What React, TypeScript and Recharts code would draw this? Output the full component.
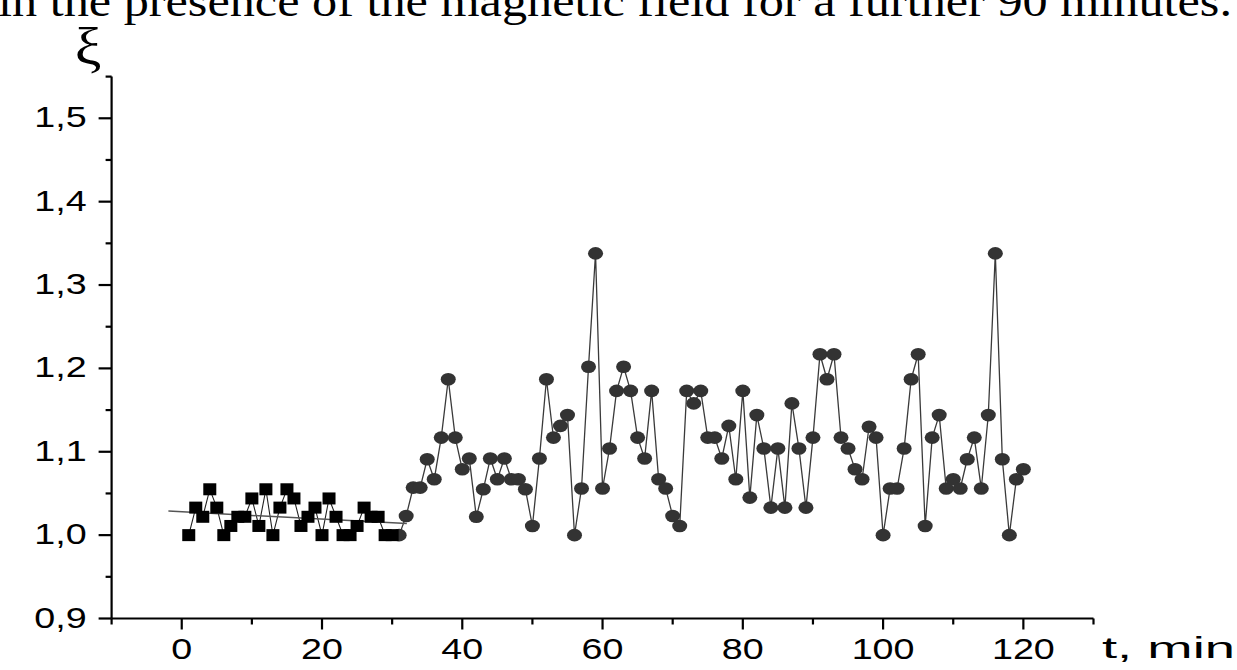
import { LineChart, Line, XAxis, YAxis } from "recharts";

// control period (squares), t in minutes
const controlTimes = [
  1, 2, 3, 4, 5, 6, 7, 8, 9, 10, 11, 12, 13, 14, 15, 16, 17, 18, 19, 20, 21, 22, 23, 24, 25, 26, 27, 28, 29, 30,
];
const controlValues = [
  1.0, 1.033, 1.022, 1.055, 1.033, 1.0, 1.011, 1.022, 1.022, 1.044, 1.011, 1.055, 1.0, 1.033, 1.055, 1.044, 1.011,
  1.022, 1.033, 1.0, 1.044, 1.022, 1.0, 1.0, 1.011, 1.033, 1.022, 1.022, 1.0, 1.0,
];

// magnetic field period (circles)
const fieldTimes = [
  31, 32, 33, 34, 35, 36, 37, 38, 39, 40, 41, 42, 43, 44, 45, 46, 47, 48, 49, 50, 51, 52, 53, 54, 55, 56, 57, 58, 59,
  60, 61, 62, 63, 64, 65, 66, 67, 68, 69, 70, 71, 72, 73, 74, 75, 76, 77, 78, 79, 80, 81, 82, 83, 84, 85, 86, 87, 88,
  89, 90, 91, 92, 93, 94, 95, 96, 97, 98, 99, 100, 101, 102, 103, 104, 105, 106, 107, 108, 109, 110, 111, 112, 113,
  114, 115, 116, 117, 118, 119, 120,
];
const fieldValues = [
  1.0, 1.023, 1.057, 1.057, 1.091, 1.067, 1.117, 1.187, 1.117, 1.079, 1.092, 1.022, 1.055, 1.092, 1.067, 1.092, 1.067,
  1.067, 1.055, 1.011, 1.092, 1.187, 1.117, 1.131, 1.144, 1.0, 1.056, 1.202, 1.338, 1.056, 1.104, 1.173, 1.202, 1.173,
  1.117, 1.092, 1.173, 1.067, 1.056, 1.023, 1.011, 1.173, 1.158, 1.173, 1.117, 1.117, 1.092, 1.131, 1.067, 1.173,
  1.045, 1.144, 1.104, 1.033, 1.104, 1.033, 1.158, 1.104, 1.033, 1.117, 1.217, 1.187, 1.217, 1.117, 1.104, 1.079,
  1.067, 1.13, 1.117, 1.0, 1.056, 1.056, 1.104, 1.187, 1.217, 1.011, 1.117, 1.144, 1.056, 1.067, 1.056, 1.091, 1.117,
  1.056, 1.144, 1.338, 1.091, 1.0, 1.067, 1.079,
];

// linear fit of the control period (end points)
const fitTimes = [-1.9, 32.1];
const fitValues = [1.0288, 1.014];

const xTicks = [-10, 0, 10, 20, 30, 40, 50, 60, 70, 80, 90, 100, 110, 120, 130];
const yTicks = [0.9, 0.95, 1.0, 1.05, 1.1, 1.15, 1.2, 1.25, 1.3, 1.35, 1.4, 1.45, 1.5, 1.55];

const controlData = controlTimes.map((t, i) => ({ t, v: controlValues[i] }));
const fieldData = fieldTimes.map((t, i) => ({ t, v: fieldValues[i] }));
const fitData = fitTimes.map((t, i) => ({ t, v: fitValues[i] }));

const sans = "'Liberation Sans', Arial, sans-serif";
const serif = "'Liberation Serif', 'Times New Roman', serif";

const XTick = (props: any) => {
  const { x, y, payload } = props;
  const v = payload.value;
  const major = v % 20 === 0 && v >= 0 && v <= 120;
  return (
    <g>
      <line x1={x} x2={x} y1={y} y2={y + (major ? 11 : 6)} stroke="#000" strokeWidth={2.2} />
      {major && (
        <text
          transform={`translate(${x},${y + 40}) scale(1.3,1)`}
          textAnchor="middle"
          fontFamily={sans}
          fontSize={29}
          fill="#000"
        >
          {v}
        </text>
      )}
    </g>
  );
};

const YTick = (props: any) => {
  const { x, y, payload } = props;
  const v = payload.value;
  const major = Math.round(v * 100) % 10 === 0;
  return (
    <g>
      <line x1={x} x2={x - (major ? 13 : 6)} y1={y} y2={y} stroke="#000" strokeWidth={2.2} />
      {major && (
        <text
          transform={`translate(${x - 25},${y + 9}) scale(1.3,1)`}
          textAnchor="end"
          fontFamily={sans}
          fontSize={29}
          fill="#000"
        >
          {v.toFixed(1).replace(".", ",")}
        </text>
      )}
    </g>
  );
};

const SquareDot = (props: any) => {
  const { cx, cy, index } = props;
  return <rect key={`sq-${index}`} x={cx - 6.5} y={cy - 6} width={13} height={12} fill="#000" />;
};

const CircleDot = (props: any) => {
  const { cx, cy, index } = props;
  return <ellipse key={`ci-${index}`} cx={cx} cy={cy} rx={7.5} ry={6.3} fill="#333" />;
};

export default function App() {
  return (
    <div style={{ position: "absolute", left: 0, top: 0, width: 1237, height: 670, background: "#fff" }}>
      <LineChart
        width={1237}
        height={670}
        margin={{ top: 76.6, right: 143.5, bottom: 21.5, left: 51.6 }}
      >
        <XAxis
          type="number"
          dataKey="t"
          domain={[-10, 130]}
          ticks={xTicks}
          interval={0}
          allowDataOverflow
          axisLine={{ stroke: "#000", strokeWidth: 2.2 }}
          tickLine={false}
          tickSize={0}
          tickMargin={0}
          tick={<XTick />}
          height={30}
        />
        <YAxis
          type="number"
          dataKey="v"
          domain={[0.9, 1.55]}
          ticks={yTicks}
          interval={0}
          allowDataOverflow
          axisLine={{ stroke: "#000", strokeWidth: 2.2 }}
          tickLine={false}
          tickSize={0}
          tickMargin={0}
          tick={<YTick />}
          width={60}
        />
        <Line
          data={fieldData}
          dataKey="v"
          stroke="#3a3a3a"
          strokeWidth={1.3}
          dot={CircleDot}
          activeDot={false}
          isAnimationActive={false}
        />
        <Line
          data={controlData}
          dataKey="v"
          stroke="#222"
          strokeWidth={1.1}
          dot={SquareDot}
          activeDot={false}
          isAnimationActive={false}
        />
        <Line
          data={fitData}
          dataKey="v"
          stroke="#555"
          strokeWidth={1.5}
          dot={false}
          activeDot={false}
          isAnimationActive={false}
        />
      </LineChart>
      <svg
        width={1237}
        height={670}
        style={{ position: "absolute", left: 0, top: 0, pointerEvents: "none" }}
      >
        <text
          x={-2}
          y={16}
          fontFamily={serif}
          fontSize={44}
          textLength={1234}
          lengthAdjust="spacingAndGlyphs"
          fill="#000"
        >
          in the presence of the magnetic field for a further 90 minutes.
        </text>
        <text transform="translate(88,64) scale(1.15,1)" textAnchor="middle" fontFamily={serif} fontSize={52} fill="#000">
          ξ
        </text>
        <text
          x={1102}
          y={658}
          fontFamily={sans}
          fontSize={30}
          textLength={133}
          lengthAdjust="spacingAndGlyphs"
          fill="#000"
        >
          t, min
        </text>
      </svg>
    </div>
  );
}
